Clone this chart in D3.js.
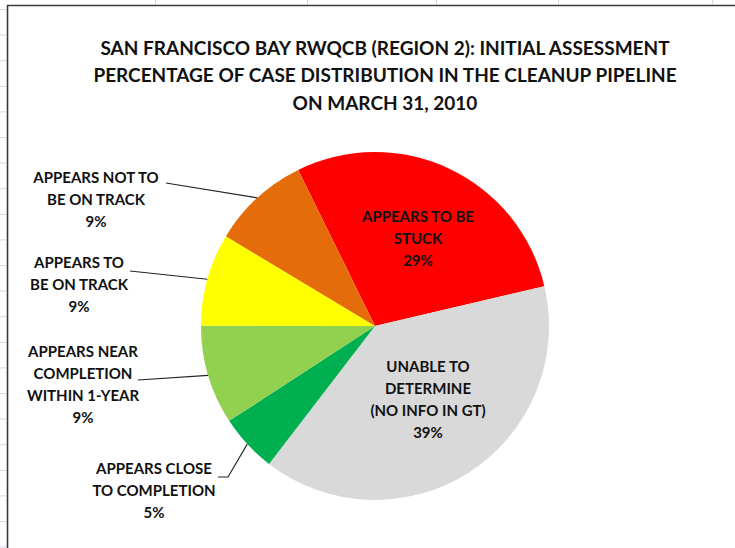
<!DOCTYPE html>
<html>
<head>
<meta charset="utf-8">
<script src="https://cdn.jsdelivr.net/npm/d3@7"></script>
<style>
  body { margin: 0; background: #fff; }
  svg { display: block; }
  text { font-family: Lato, "Open Sans", sans-serif; font-weight: bold; fill: #111; }
</style>
</head>
<body>
<div id="chart-area"></div>
<script>
// Data
let categories = ["APPEARS TO BE STUCK", "UNABLE TO DETERMINE (NO INFO IN GT)",
    "APPEARS CLOSE TO COMPLETION", "APPEARS NEAR COMPLETION WITHIN 1-YEAR",
    "APPEARS TO BE ON TRACK", "APPEARS NOT TO BE ON TRACK"];
let labelLines = [
    ["APPEARS TO BE", "STUCK"],
    ["UNABLE TO", "DETERMINE", "(NO INFO IN GT)"],
    ["APPEARS CLOSE", "TO COMPLETION"],
    ["APPEARS NEAR", "COMPLETION", "WITHIN 1-YEAR"],
    ["APPEARS TO", "BE ON TRACK"],
    ["APPEARS NOT TO", "BE ON TRACK"]
];
let values = [28.6, 39.1, 5.4, 9.2, 8.6, 9.1];
let colors = ["#FF0000", "#D9D9D9", "#00B050", "#92D050", "#FFFF00", "#E46C0A"];
let titleLines = ["SAN FRANCISCO BAY RWQCB (REGION 2): INITIAL ASSESSMENT",
    "PERCENTAGE OF CASE DISTRIBUTION IN THE CLEANUP PIPELINE",
    "ON MARCH 31, 2010"];

// Label layout: text centre x, first line y, leader start (null = inside slice)
let labelLayout = [
    { x: 418, y: 217, lead: null },
    { x: 428, y: 367, lead: null },
    { x: 154, y: 469, lead: [[218, 477], [228, 477]] },
    { x: 83,  y: 352, lead: [[138, 380]] },
    { x: 79,  y: 263, lead: [[130, 271]] },
    { x: 96,  y: 178, lead: [[166, 183]] }
];

let width = 735, height = 548;
let cx = 375, cy = 326, radius = 174;
let lineH = 22;

let svg = d3.select("#chart-area")
    .append("svg")
    .attr("width", width)
    .attr("height", height);

// Sheet grid ticks peeking out round the chart
let grid = svg.append("g").attr("stroke", "#d3d8e2").attr("stroke-width", 1);
d3.range(9.5, height, 25.6).forEach(function(y) {
    grid.append("line").attr("x1", 0).attr("x2", 6).attr("y1", y).attr("y2", y);
});
[155.5, 307.5, 436.5, 558.5, 712.5].forEach(function(x) {
    grid.append("line").attr("x1", x).attr("x2", x).attr("y1", 0).attr("y2", 4);
});

// Chart border
svg.append("path")
    .attr("d", "M7.5," + (height + 2) + "V5.5H" + (width + 2))
    .attr("fill", "none")
    .attr("stroke", "#3a3a3a")
    .attr("stroke-width", 1.6);

// Title
svg.append("g").selectAll("text")
    .data(titleLines)
    .enter()
    .append("text")
    .attr("x", 385)
    .attr("y", function(d, i) { return 48 + i * 27.5; })
    .attr("dy", "0.36em")
    .attr("text-anchor", "middle")
    .attr("font-size", "19px")
    .text(function(d) { return d; });

// Pie
let pie = d3.pie()
    .sort(null)
    .startAngle(-26.2 * Math.PI / 180)
    .endAngle((360 - 26.2) * Math.PI / 180)
    .value(function(d) { return d; });

let arc = d3.arc().innerRadius(0).outerRadius(radius);

let g = svg.append("g")
    .attr("transform", "translate(" + cx + "," + cy + ")");

let arcs = pie(values);

g.selectAll("path")
    .data(arcs)
    .enter()
    .append("path")
    .attr("d", arc)
    .attr("fill", function(d, i) { return colors[i]; });

let total = d3.sum(values);

// Leader lines
arcs.forEach(function(d, i) {
    let lay = labelLayout[i];
    if (!lay.lead) return;
    let mid = (d.startAngle + d.endAngle) / 2;
    let end = [cx + radius * Math.sin(mid), cy - radius * Math.cos(mid)];
    let pts = lay.lead.concat([end]);
    svg.append("path")
        .attr("d", d3.line()(pts))
        .attr("fill", "none")
        .attr("stroke", "#222")
        .attr("stroke-width", 1.1);
});

// Labels
arcs.forEach(function(d, i) {
    let lay = labelLayout[i];
    let lines = labelLines[i].concat([Math.round(d.value / total * 100) + "%"]);
    let t = svg.append("text")
        .attr("text-anchor", "middle")
        .attr("font-size", "15px");
    lines.forEach(function(l, j) {
        t.append("tspan")
            .attr("x", lay.x)
            .attr("y", lay.y + j * lineH)
            .attr("dy", "0.36em")
            .text(l);
    });
});
</script>
</body>
</html>
